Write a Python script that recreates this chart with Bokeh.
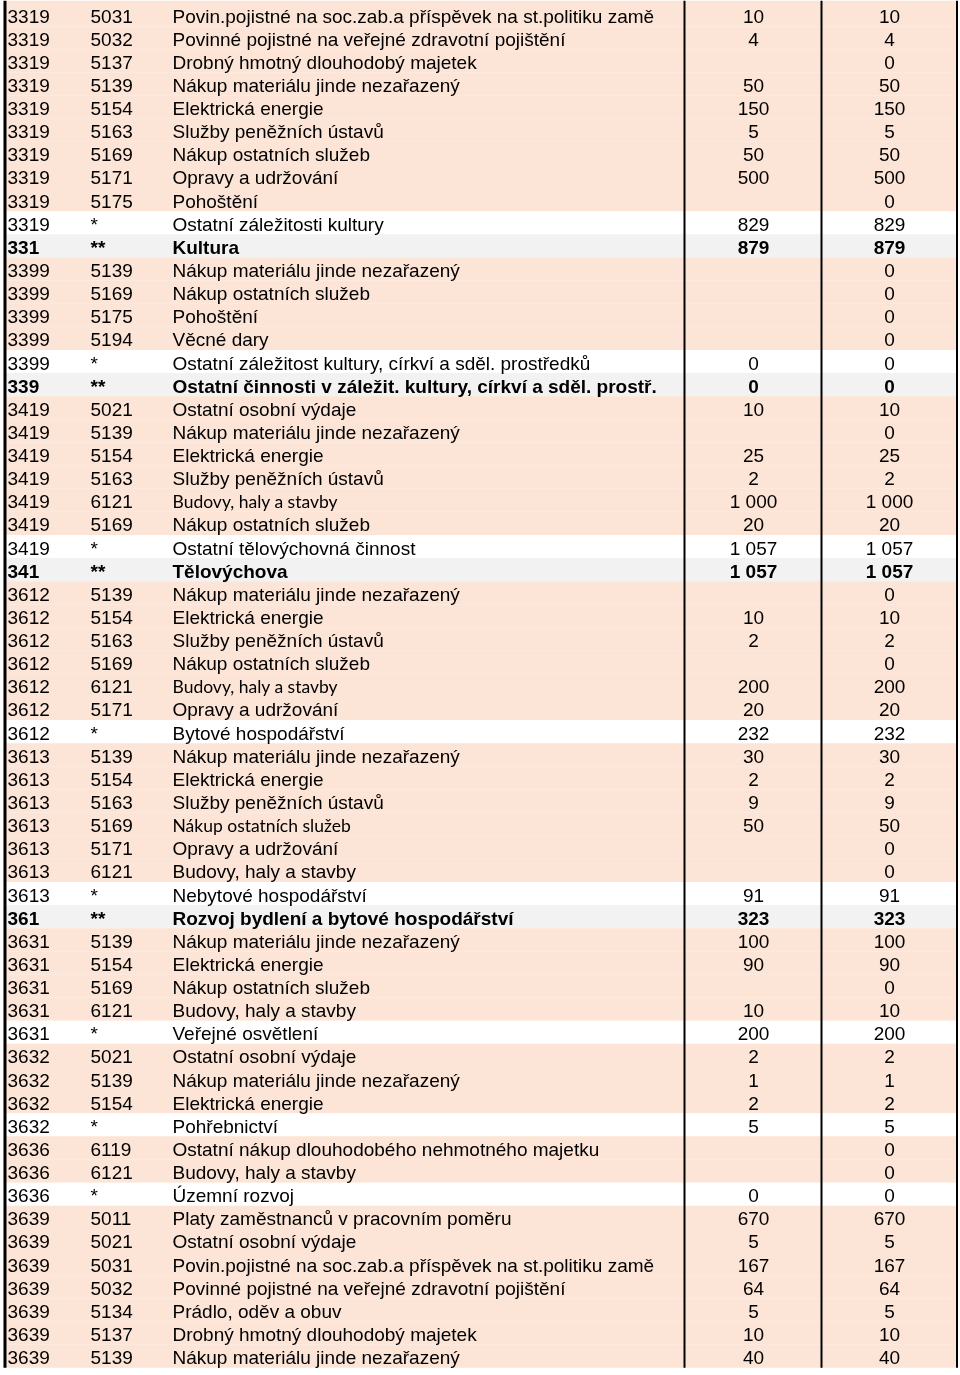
from bokeh.plotting import figure
from bokeh.models import ColumnDataSource, Range1d
from bokeh.embed import file_html
from bokeh.resources import INLINE
from bokeh.core.properties import value

# ---------------- data ----------------
paragraf = ["3319", "3319", "3319", "3319", "3319", "3319", "3319", "3319", "3319", "3319",
            "331",
            "3399", "3399", "3399", "3399", "3399",
            "339",
            "3419", "3419", "3419", "3419", "3419", "3419", "3419",
            "341",
            "3612", "3612", "3612", "3612", "3612", "3612", "3612",
            "3613", "3613", "3613", "3613", "3613", "3613", "3613",
            "361",
            "3631", "3631", "3631", "3631", "3631",
            "3632", "3632", "3632", "3632",
            "3636", "3636", "3636",
            "3639", "3639", "3639", "3639", "3639", "3639", "3639"]

polozka = ["5031", "5032", "5137", "5139", "5154", "5163", "5169", "5171", "5175", "*",
           "**",
           "5139", "5169", "5175", "5194", "*",
           "**",
           "5021", "5139", "5154", "5163", "6121", "5169", "*",
           "**",
           "5139", "5154", "5163", "5169", "6121", "5171", "*",
           "5139", "5154", "5163", "5169", "5171", "6121", "*",
           "**",
           "5139", "5154", "5169", "6121", "*",
           "5021", "5139", "5154", "*",
           "6119", "6121", "*",
           "5011", "5021", "5031", "5032", "5134", "5137", "5139"]

nazev = ["Povin.pojistné na soc.zab.a příspěvek na st.politiku zamě",
         "Povinné pojistné na veřejné zdravotní pojištění",
         "Drobný hmotný dlouhodobý majetek",
         "Nákup materiálu jinde nezařazený",
         "Elektrická energie",
         "Služby peněžních ústavů",
         "Nákup ostatních služeb",
         "Opravy a udržování",
         "Pohoštění",
         "Ostatní záležitosti kultury",
         "Kultura",
         "Nákup materiálu jinde nezařazený",
         "Nákup ostatních služeb",
         "Pohoštění",
         "Věcné dary",
         "Ostatní záležitost kultury, církví a sděl. prostředků",
         "Ostatní činnosti v záležit. kultury, církví a sděl. prostř.",
         "Ostatní osobní výdaje",
         "Nákup materiálu jinde nezařazený",
         "Elektrická energie",
         "Služby peněžních ústavů",
         "Budovy, haly a stavby",
         "Nákup ostatních služeb",
         "Ostatní tělovýchovná činnost",
         "Tělovýchova",
         "Nákup materiálu jinde nezařazený",
         "Elektrická energie",
         "Služby peněžních ústavů",
         "Nákup ostatních služeb",
         "Budovy, haly a stavby",
         "Opravy a udržování",
         "Bytové hospodářství",
         "Nákup materiálu jinde nezařazený",
         "Elektrická energie",
         "Služby peněžních ústavů",
         "Nákup ostatních služeb",
         "Opravy a udržování",
         "Budovy, haly a stavby",
         "Nebytové hospodářství",
         "Rozvoj bydlení a bytové hospodářství",
         "Nákup materiálu jinde nezařazený",
         "Elektrická energie",
         "Nákup ostatních služeb",
         "Budovy, haly a stavby",
         "Veřejné osvětlení",
         "Ostatní osobní výdaje",
         "Nákup materiálu jinde nezařazený",
         "Elektrická energie",
         "Pohřebnictví",
         "Ostatní nákup dlouhodobého nehmotného majetku",
         "Budovy, haly a stavby",
         "Územní rozvoj",
         "Platy zaměstnanců v pracovním poměru",
         "Ostatní osobní výdaje",
         "Povin.pojistné na soc.zab.a příspěvek na st.politiku zamě",
         "Povinné pojistné na veřejné zdravotní pojištění",
         "Prádlo, oděv a obuv",
         "Drobný hmotný dlouhodobý majetek",
         "Nákup materiálu jinde nezařazený"]

schvaleny = [10, 4, None, 50, 150, 5, 50, 500, None, 829,
             879,
             None, None, None, None, 0,
             0,
             10, None, 25, 2, 1000, 20, 1057,
             1057,
             None, 10, 2, None, 200, 20, 232,
             30, 2, 9, 50, None, None, 91,
             323,
             100, 90, None, 10, 200,
             2, 1, 2, 5,
             None, None, 0,
             670, 5, 167, 64, 5, 10, 40]

upraveny = [10, 4, 0, 50, 150, 5, 50, 500, 0, 829,
            879,
            0, 0, 0, 0, 0,
            0,
            10, 0, 25, 2, 1000, 20, 1057,
            1057,
            0, 10, 2, 0, 200, 20, 232,
            30, 2, 9, 50, 0, 0, 91,
            323,
            100, 90, 0, 10, 200,
            2, 1, 2, 5,
            0, 0, 0,
            670, 5, 167, 64, 5, 10, 40]

# rows whose description is set in a different (Calibri-like) font in the source
alt_font_rows = [21, 29, 35]

# ---------------- layout ----------------
W, H = 960, 1375
TOP, RH = 2.5, 23.13
X_LEFT, X_RIGHT = 3, 957
X_C1, X_C2, X_C3 = 7, 90, 172
X_N1, X_N2 = 753, 889
X_V1, X_V2 = 684, 821

def fmt(v):
    if v is None:
        return ""
    return "{:,}".format(v).replace(",", " ")

n = len(paragraf)
tops = [TOP + i * RH for i in range(n)]
bots = [t + RH for t in tops]
tops[0] = 0
mids = [TOP + (i + 0.5) * RH + 1.5 for i in range(n)]
fills = []
for pol in polozka:
    if pol == "**":
        fills.append("#F2F2F2")
    elif pol == "*":
        fills.append("#FFFFFF")
    else:
        fills.append("#FCE4D6")

p = figure(width=W, height=H, x_range=Range1d(0, W), y_range=Range1d(H, 0),
           output_backend="svg", toolbar_location=None, min_border=0)
p.axis.visible = False
p.grid.visible = False
p.outline_line_color = None
p.background_fill_color = "white"
p.border_fill_color = "white"
p.styles = {"position": "fixed", "left": "0px", "top": "0px"}

bg = ColumnDataSource(dict(top=tops, bottom=bots, left=[X_LEFT] * n, right=[X_RIGHT] * n, fill=fills))
p.quad(top="top", bottom="bottom", left="left", right="right", fill_color="fill",
       line_color=None, source=bg)

# vertical rules
table_bottom = bots[-1]
p.segment(x0=[4.5, X_V1, X_V2, 956.5], y0=[0] * 4, x1=[4.5, X_V1, X_V2, 956.5],
          y1=[table_bottom] * 4, line_color="black", line_width=[3, 2, 2, 2])

normal = [i for i in range(n) if polozka[i] != "**"]
bold = [i for i in range(n) if polozka[i] == "**"]

def src(idx, col, xs):
    return ColumnDataSource(dict(x=[xs] * len(idx), y=[mids[i] for i in idx],
                                 t=[col[i] for i in idx]))

FONT = value("Liberation Sans")
FS = "19px"

for idx, style in ((normal, "normal"), (bold, "bold")):
    for col, xs, align in ((paragraf, X_C1, "left"), (polozka, X_C2, "left"),
                           ([fmt(v) for v in schvaleny], X_N1, "center"),
                           ([fmt(v) for v in upraveny], X_N2, "center")):
        p.text(x="x", y="y", text="t", source=src(idx, col, xs), text_font=FONT,
               text_font_size=FS, text_font_style=style, text_align=align,
               text_baseline="middle", text_color="black")
    main_idx = [i for i in idx if i not in alt_font_rows]
    p.text(x="x", y="y", text="t", source=src(main_idx, nazev, X_C3), text_font=FONT,
           text_font_size=FS, text_font_style=style, text_align="left",
           text_baseline="middle", text_color="black")

alt_idx = alt_font_rows
p.text(x="x", y="y", text="t", source=src(alt_idx, nazev, X_C3), text_font=value("Lato"),
       text_font_size="17.5px", text_align="left", text_baseline="middle", text_color="black")

open("out.html", "w").write(file_html(p, INLINE))
